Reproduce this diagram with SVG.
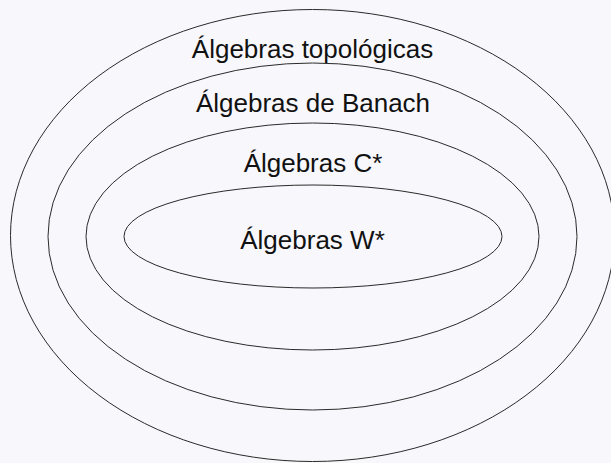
<svg xmlns="http://www.w3.org/2000/svg" width="611" height="463" viewBox="0 0 611 463">
<style>
.ring{fill:none;stroke:#2a2a2a;stroke-width:1}
.lbl{font-family:"Liberation Sans","DejaVu Sans",sans-serif;font-size:26px;fill:#111;text-anchor:middle}
</style>
<rect width="611" height="463" fill="#f8f8fc"/>
<g id="topologicas">
<ellipse class="ring" cx="312.5" cy="235.5" rx="302" ry="226"/>
<text class="lbl" x="312.5" y="58.3">Álgebras topológicas</text>
</g>
<g id="banach">
<ellipse class="ring" cx="312.5" cy="236.5" rx="264.5" ry="173.5"/>
<text class="lbl" x="313" y="111.7">Álgebras de Banach</text>
</g>
<g id="cstar">
<ellipse class="ring" cx="312.5" cy="236.5" rx="226.5" ry="113.5"/>
<text class="lbl" x="313" y="171.7">Álgebras C*</text>
</g>
<g id="wstar">
<ellipse class="ring" cx="313" cy="236.5" rx="189" ry="51.5"/>
<text class="lbl" x="312.5" y="249">Álgebras W*</text>
</g>
<g id="connectors"/>
</svg>
